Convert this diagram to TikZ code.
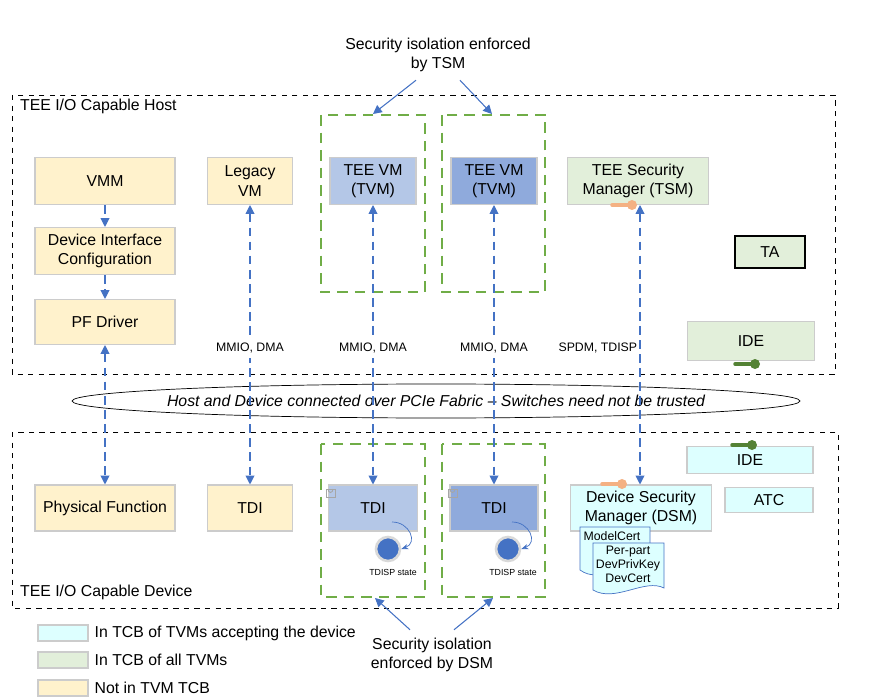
\documentclass[tikz,border=0pt]{standalone}
\usepackage{fontspec}
\setmainfont{Liberation Sans}
\usetikzlibrary{arrows.meta,shapes.geometric,calc}
\definecolor{nottcb}{HTML}{FFF2CC}
\definecolor{alltcb}{HTML}{E2EFDA}
\definecolor{acctcb}{HTML}{DDFFFF}
\definecolor{tvma}{HTML}{B4C7E7}
\definecolor{tvmb}{HTML}{8FAADC}
\definecolor{lnk}{HTML}{4472C4}
\definecolor{grn}{HTML}{70AD47}
\definecolor{keyo}{HTML}{F4B183}
\definecolor{keyg}{HTML}{548235}
\tikzset{
  blk/.style={draw=black!20,line width=0.6pt,font=\small,align=center},
  link/.style={draw=lnk,dash pattern=on 5pt off 3pt,line width=0.6pt,-{Triangle[length=5pt,width=5pt]}},
  blink/.style={link,{Triangle[length=5pt,width=5pt]}-{Triangle[length=5pt,width=5pt]}},
  zone/.style={draw=grn,dash pattern=on 6pt off 4pt,line width=1.1pt},
  lbl/.style={font=\scriptsize},
}
\newcommand\tkey[2]{% position, color
  \draw[#2,line width=2pt,line cap=round] (#1) -- ++(-20,0);
  \fill[#2] (#1) circle (5);
}
\newcommand\tlock[1]{%
  \draw[black!35,line width=0.5pt] (#1) rectangle ++(9,-8);
  \draw[black!35,line width=0.5pt] ($(#1)+(2,-8)$) arc (180:0:2.5 and 3.5);
}
\begin{document}
\begin{tikzpicture}[x=0.02cm,y=-0.02cm]
\useasboundingbox (0,0) rectangle (876,699);

%% outer zones
\draw[dashed] (12,95) rectangle (835,374);
\node[anchor=west,font=\small] at (14,106) {TEE I/O Capable Host};
\draw[dashed] (12,432) rectangle (838,608);
\node[anchor=west,font=\small] at (14,592) {TEE I/O Capable Device};
\draw[zone] (321,115) rectangle (425,292);
\draw[zone] (442,115) rectangle (545,292);
\draw[zone] (321,444) rectangle (425,597);
\draw[zone] (442,444) rectangle (545,597);

%% host
\node[blk,fill=nottcb,minimum width=140*0.02cm,minimum height=47*0.02cm] (vmm) at (105,181) {VMM};
\node[blk,fill=nottcb,minimum width=140*0.02cm,minimum height=47*0.02cm] (dic) at (105,251) {Device Interface\\Configuration};
\node[blk,fill=nottcb,minimum width=140*0.02cm,minimum height=45*0.02cm] (pfd) at (105,322) {PF Driver};
\node[blk,fill=nottcb,minimum width=85*0.02cm,minimum height=47*0.02cm] (lvm) at (250,181) {Legacy\\VM};
\node[blk,fill=tvma,minimum width=86*0.02cm,minimum height=47*0.02cm] (tvm1) at (373,181) {TEE VM\\(TVM)};
\node[blk,fill=tvmb,minimum width=86*0.02cm,minimum height=47*0.02cm] (tvm2) at (494,181) {TEE VM\\(TVM)};
\node[blk,fill=alltcb,minimum width=141*0.02cm,minimum height=47*0.02cm] (tsm) at (638,181) {TEE Security\\Manager (TSM)};
\node[blk,draw=black,fill=alltcb,minimum width=70*0.02cm,minimum height=32*0.02cm] (ta) at (770,252) {TA};
\node[blk,fill=alltcb,minimum width=127*0.02cm,minimum height=39*0.02cm] (hide) at (751,341) {IDE};

%% fabric
\draw (436,401) ellipse (364 and 17);
\node[font=\small\itshape] (fab) at (436,401)
  {Host and Device connected over PCIe Fabric -- Switches need not be trusted};

%% device
\node[blk,fill=nottcb,minimum width=140*0.02cm,minimum height=46*0.02cm] (pf) at (105,508) {Physical Function};
\node[blk,fill=nottcb,minimum width=85*0.02cm,minimum height=46*0.02cm] (ltdi) at (250,508) {TDI};
\node[blk,fill=tvma,minimum width=89*0.02cm,minimum height=46*0.02cm] (tdi1) at (373,508) {TDI};
\node[blk,fill=tvmb,minimum width=88*0.02cm,minimum height=46*0.02cm] (tdi2) at (494,508) {TDI};
\node[blk,fill=acctcb,minimum width=141*0.02cm,minimum height=46*0.02cm] (dsm) at (641,508) {Device Security\\Manager (DSM)};
\node[blk,fill=acctcb,minimum width=126*0.02cm,minimum height=27*0.02cm] (dide) at (750,460) {IDE};
\node[blk,fill=acctcb,minimum width=88*0.02cm,minimum height=25*0.02cm] (atc) at (769,500) {ATC};

%% TDISP state
\foreach \i/\x in {1/388,2/508}{
  \node[circle,draw=black!15,line width=1.5pt,fill=lnk,minimum size=24*0.02cm] (st\i) at (\x,549) {};
  \node[font=\tiny] at (\x+5,572) {TDISP state};
  \draw[lnk,-{Stealth[length=4pt]}] (\x+4,522) to[out=0,in=20,looseness=1.6] (st\i.east);
}
\tlock{326,497}
\tlock{448,497}

%% certificates
\draw[lnk,fill=acctcb] (580,527) -- (650,527) -- (650,570) .. controls (630,560) and (600,585) .. (580,570) -- cycle;
\node[font=\scriptsize] at (612,536) {ModelCert};
\draw[lnk,fill=acctcb] (593,543) -- (664,543) -- (664,588) .. controls (645,578) and (615,603) .. (593,590) -- cycle;
\node[font=\scriptsize,align=center] at (628,564) {Per-part\\DevPrivKey\\DevCert};

%% keys
\tkey{632,205}{keyo}
\tkey{622,484}{keyo}
\tkey{755,364}{keyg}
\tkey{752,445}{keyg}

%% links
\draw[link] (vmm) -- (dic);
\draw[link] (dic) -- (pfd);
\draw[blink] (pfd) -- (pf);
\draw[blink] (lvm) -- node[lbl,pos=0.51] {\colorbox{white}{MMIO, DMA}} (ltdi);
\draw[blink] (tvm1) -- node[lbl,pos=0.51] {\colorbox{white}{MMIO, DMA}} (tdi1);
\draw[blink] (tvm2) -- node[lbl,pos=0.51] {\colorbox{white}{MMIO, DMA}} (tdi2);
\draw[blink] (tsm.south -| 640,0) -- node[lbl,pos=0.51,left=-2pt] {SPDM, TDISP} (dsm.north -| 640,0);

%% isolation notes
\node[font=\small,align=center] (ntsm) at (438,55) {Security isolation enforced\\by TSM};
\coordinate (z1) at (373,114);
\coordinate (z2) at (492,114);
\draw[link,solid] ($(ntsm.south)+(-22,2)$) -- (z1);
\draw[link,solid] ($(ntsm.south)+(22,2)$) -- (z2);
\node[font=\small,align=center] (ndsm) at (432,655) {Security isolation\\enforced by DSM};
\coordinate (z3) at (375,598);
\coordinate (z4) at (493,598);
\draw[link,solid] ($(ndsm.north)+(-22,-2)$) -- (z3);
\draw[link,solid] ($(ndsm.north)+(22,-2)$) -- (z4);

%% legend
\node[blk,fill=acctcb,minimum width=50*0.02cm,minimum height=16*0.02cm] (lg1) at (63,633) {};
\node[anchor=west,font=\small] at (lg1.east) {In TCB of TVMs accepting the device};
\node[blk,fill=alltcb,minimum width=50*0.02cm,minimum height=16*0.02cm] (lg2) at (63,660) {};
\node[anchor=west,font=\small] at (lg2.east) {In TCB of all TVMs};
\node[blk,fill=nottcb,minimum width=50*0.02cm,minimum height=16*0.02cm] (lg3) at (63,688) {};
\node[anchor=west,font=\small] at (lg3.east) {Not in TVM TCB};
\end{tikzpicture}
\end{document}
